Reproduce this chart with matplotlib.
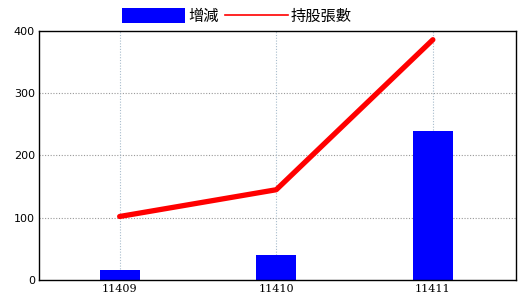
import matplotlib
matplotlib.use("Agg")
import matplotlib.pyplot as plt
from matplotlib.patches import Patch
from matplotlib.lines import Line2D

categories = ["11409", "11410", "11411"]
change_values = [16, 40, 239]
holding_values = [102, 145, 386]
yticks = [0, 100, 200, 300, 400]

plt.rcParams['font.family'] = ['Noto Sans CJK TC', 'DejaVu Sans']

fig = plt.figure(figsize=(5.2, 3.0), dpi=100)
ax = fig.add_axes([0.075, 0.0667, 0.917, 0.83])
x = list(range(len(categories)))
ax.bar(x, change_values, width=0.255, color='#0000ff', zorder=2)
ax.plot(x, holding_values, color='#ff0000', linewidth=3.8, solid_capstyle='round', zorder=3)
ax.set_xlim(-0.515, 2.53)
ax.set_ylim(0, 400)
ax.set_xticks(x)
ax.set_xticklabels(categories, fontsize=8, family=['DejaVu Serif'])
ax.set_yticks(yticks)
ax.set_yticklabels([str(v) for v in yticks], fontsize=8, family=['DejaVu Sans'])
ax.tick_params(length=0, pad=3)
for v in yticks[1:-1]:
    ax.axhline(v, color='#999999', linestyle=(0, (1, 1.5)), linewidth=0.8, zorder=1)
for xi in x:
    ax.axvline(xi, color='#a8bccc', linestyle=(0, (1, 1.5)), linewidth=0.8, zorder=1)
for s in ax.spines.values():
    s.set_linewidth(1.0)
    s.set_color('black')

handles = [Patch(facecolor='#0000ff', edgecolor='none'),
           Line2D([], [], color='#ff0000', linewidth=1.2)]
fig.legend(handles, ['增減', '持股張數'], loc='center', bbox_to_anchor=(0.456, 0.945),
           ncol=2, frameon=False, fontsize=11, handlelength=4.1, handleheight=1.15,
           handletextpad=0.2, columnspacing=0.45, borderpad=0)
fig.savefig('out.png', dpi=100)
